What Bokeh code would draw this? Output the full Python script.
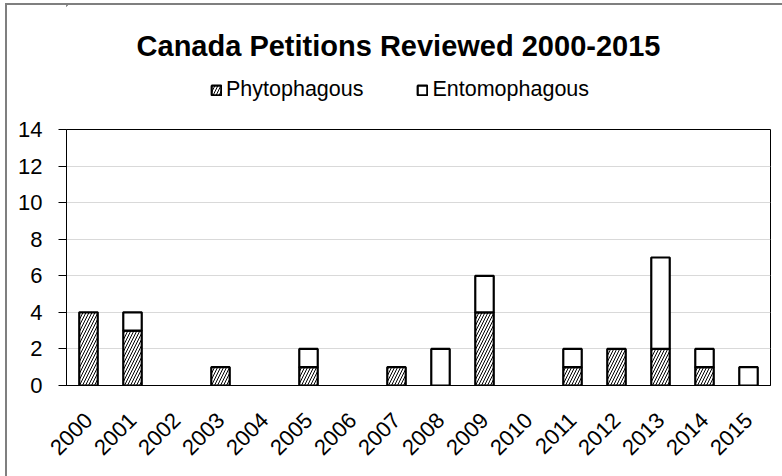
from bokeh.plotting import figure
from bokeh.layouts import column
from bokeh.models import (ColumnDataSource, Label, Legend, LegendItem, FactorRange,
                          FixedTicker, Range1d)
from bokeh.embed import file_html
from bokeh.resources import INLINE

years = ["2000", "2001", "2002", "2003", "2004", "2005", "2006", "2007",
         "2008", "2009", "2010", "2011", "2012", "2013", "2014", "2015"]
phytophagous = [4, 3, 0, 1, 0, 1, 0, 1, 0, 4, 0, 1, 2, 2, 1, 0]
entomophagous = [0, 1, 0, 0, 0, 1, 0, 0, 2, 2, 0, 1, 0, 5, 1, 1]
y_ticks = [0, 2, 4, 6, 8, 10, 12, 14]
title_text = "Canada Petitions Reviewed 2000-2015"
series_names = ["Phytophagous", "Entomophagous"]

FONT = "Liberation Sans"
PH_STYLE = dict(fill_color="white", line_color="black", line_width=2.2,
                hatch_pattern="/", hatch_color="black", hatch_scale=6, hatch_weight=1)
EN_STYLE = dict(fill_color="white", line_color="black", line_width=2.2)

# ---------- header: title + legend (frame aligns with chart frame: page x 66..770) ----------
head = figure(width=775, height=112, x_range=Range1d(66, 770), y_range=Range1d(117, 5),
              output_backend="svg", toolbar_location=None,
              min_border_left=0, min_border_right=0, min_border_top=0, min_border_bottom=0)
head.axis.visible = False
head.grid.grid_line_color = None
head.outline_line_color = None

d1 = head.vbar(x=[0], top=[0], bottom=[0], width=1, **PH_STYLE)
d2 = head.vbar(x=[0], top=[0], bottom=[0], width=1, **EN_STYLE)

head.add_layout(Label(x=398, y=45, text=title_text, text_font=FONT,
                      text_font_size="29px", text_font_style="bold",
                      text_align="center", text_baseline="middle", text_color="black"))

legend = Legend(items=[LegendItem(label=series_names[0], renderers=[d1]),
                       LegendItem(label=series_names[1], renderers=[d2])],
                orientation="horizontal", location=(144, 15),
                label_text_font=FONT, label_text_font_size="21.5px", label_text_color="black",
                glyph_width=12, glyph_height=12, label_standoff=4, spacing=53,
                border_line_color=None, background_fill_alpha=0, margin=0, padding=0)
head.add_layout(legend)

# ---------- main chart ----------
p = figure(width=775, height=359, x_range=FactorRange(*years), y_range=(0, 14),
           output_backend="svg", toolbar_location=None,
           min_border_left=59, min_border_right=12, min_border_top=12,
           min_border_bottom=91)
p.x_range.range_padding = 0

ph_src = ColumnDataSource(dict(
    x=[y for y, v in zip(years, phytophagous) if v > 0],
    top=[v for v in phytophagous if v > 0],
    bottom=[0 for v in phytophagous if v > 0]))
en_src = ColumnDataSource(dict(
    x=[y for y, a, b in zip(years, phytophagous, entomophagous) if b > 0],
    top=[a + b for a, b in zip(phytophagous, entomophagous) if b > 0],
    bottom=[a for a, b in zip(phytophagous, entomophagous) if b > 0]))

p.vbar(x="x", top="top", bottom="bottom", width=0.42, source=ph_src, **PH_STYLE)
p.vbar(x="x", top="top", bottom="bottom", width=0.42, source=en_src, **EN_STYLE)

p.outline_line_color = "black"
p.outline_line_width = 1
p.xgrid.grid_line_color = None
p.ygrid.grid_line_color = "#d9d9d9"
p.yaxis.ticker = FixedTicker(ticks=y_ticks)
p.yaxis.minor_tick_line_color = None
p.yaxis.major_tick_out = 8
p.yaxis.major_tick_in = 0
p.yaxis.major_label_standoff = 16
p.yaxis.major_label_text_font_size = "22px"
p.xaxis.major_tick_line_color = None
p.xaxis.major_label_orientation = 0.785398
p.xaxis.major_label_standoff = 25
p.xaxis.major_label_text_font_size = "22px"
for ax in (p.xaxis, p.yaxis):
    ax.major_label_text_font = FONT
    ax.major_label_text_color = "black"
    ax.axis_line_color = "black"

layout = column(head, p, spacing=0, margin=(3, 0, 0, 5),
                styles={"border-left": "2px solid #7f7f7f", "border-top": "2px solid #7f7f7f"})

open("out.html", "w").write(file_html(layout, INLINE))
